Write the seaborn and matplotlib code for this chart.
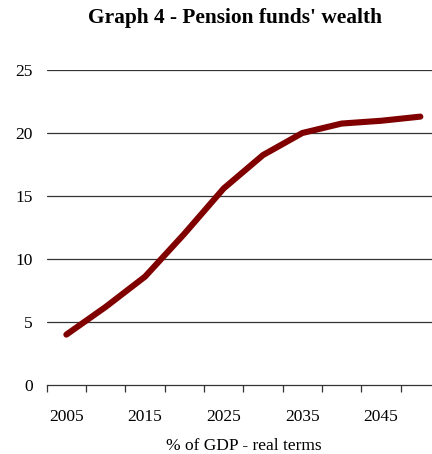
import matplotlib
matplotlib.use("Agg")
import matplotlib.pyplot as plt
import seaborn as sns
import pandas as pd
import numpy as np

years = [2005, 2010, 2015, 2020, 2025, 2030, 2035, 2040, 2045, 2050]
wealth = [4.0, 6.2, 8.6, 12.0, 15.6, 18.25, 20.0, 20.75, 20.97, 21.3]
tick_labels = ["2005", "2015", "2025", "2035", "2045"]
y_ticks = [0, 5, 10, 15, 20, 25]

sns.set_style("white")
plt.rcParams['font.family'] = ['Liberation Serif', 'DejaVu Serif']
plt.rcParams['text.color'] = 'black'
plt.rcParams['xtick.color'] = 'black'
plt.rcParams['ytick.color'] = 'black'
plt.rcParams['axes.labelcolor'] = 'black'

df = pd.DataFrame({"year": years, "wealth": wealth})

fig = plt.figure(figsize=(4.32, 4.54), dpi=100)
W, H = 432, 454
left_px, right_px, top_px, bottom_px = 46.7, 440.0, 70.0, 385.0
ax = fig.add_axes([left_px / W, 1 - bottom_px / H, (right_px - left_px) / W, (bottom_px - top_px) / H])

sns.lineplot(data=df, x="year", y="wealth", ax=ax, color="#800000", linewidth=4.4,
             solid_capstyle="round", solid_joinstyle="round", zorder=3)

ax.set_xlim(2002.5, 2052.5)
ax.set_ylim(0, 25)
ax.set_yticks(y_ticks)
ax.set_yticklabels([str(v) for v in y_ticks], fontsize=12.5)
for v in y_ticks[1:]:
    ax.axhline(v, color="#333333", linewidth=0.9, zorder=1)

ax.set_xticks([int(t) for t in tick_labels])
ax.set_xticklabels(tick_labels, fontsize=12.5)
ax.set_xticks(np.arange(2002.5, 2053, 5), minor=True)
ax.tick_params(axis="x", which="major", length=0, pad=17)
ax.tick_params(axis="x", which="minor", length=5, width=0.9, color="#333333", direction="out", bottom=True)
ax.tick_params(axis="y", length=0, pad=10)

for s in ["top", "right", "left"]:
    ax.spines[s].set_visible(False)
ax.spines["bottom"].set_color("#333333")
ax.spines["bottom"].set_linewidth(0.9)

ax.set_xlabel("% of GDP - real terms", fontsize=12.5, labelpad=10)
ax.set_ylabel("")
fig.text(235 / W, 1 - 18 / H, "Graph 4 - Pension funds' wealth", ha="center", va="center",
         fontsize=15.4, fontweight="bold", color="black")

fig.savefig("out.png", dpi=100)
